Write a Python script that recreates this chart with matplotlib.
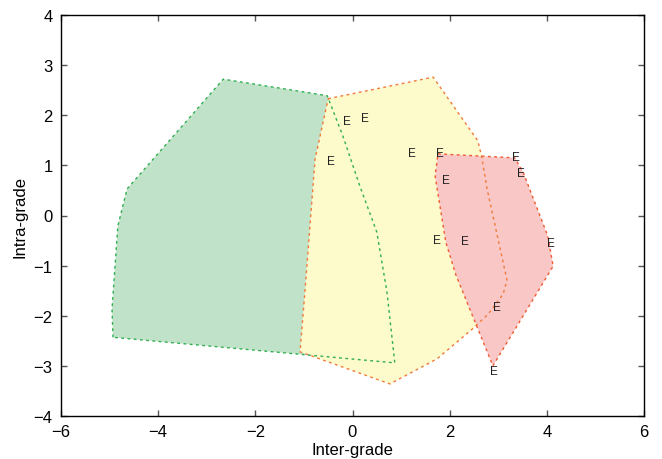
import matplotlib
matplotlib.use("Agg")
import matplotlib.pyplot as plt
from matplotlib.patches import Polygon

plt.rcParams['font.family'] = ['Liberation Sans', 'DejaVu Sans']

# Green region (convex hull)
green_x = [-4.93, -4.95, -4.83, -4.64, -2.66, -0.52, -0.20, 0.15, 0.50, 0.71, 0.87]
green_y = [-2.43, -1.87, -0.21, 0.53, 2.72, 2.39, 1.59, 0.59, -0.33, -1.53, -2.94]

# Yellow region
yellow_x = [-0.50, 1.66, 2.58, 2.66, 2.77, 3.18, 3.10, 2.79, 2.46, 1.74, 0.77, -1.08, -0.98, -0.77]
yellow_y = [2.33, 2.76, 1.49, 1.17, 0.53, -1.29, -1.57, -1.97, -2.27, -2.86, -3.36, -2.72, -1.53, 1.13]

# Red region
red_x = [1.76, 3.34, 3.51, 4.02, 4.13, 2.89, 2.13, 1.92, 1.70]
red_y = [1.23, 1.15, 0.87, -0.41, -1.01, -3.00, -1.19, -0.53, 0.79]

# "E" labels
e_x = [-0.44, -0.11, 0.26, 1.22, 1.80, 1.92, 3.36, 3.47, 1.74, 2.31, 4.08, 2.97, 2.91]
e_y = [1.09, 1.89, 1.95, 1.25, 1.25, 0.71, 1.17, 0.85, -0.49, -0.51, -0.55, -1.83, -3.10]

xticks = [-6, -4, -2, 0, 2, 4, 6]
yticks = [-4, -3, -2, -1, 0, 1, 2, 3, 4]

fig = plt.figure(figsize=(6.62, 4.60), dpi=100)
ax = fig.add_axes([61 / 662, 1 - 417 / 460, 583 / 662, 401 / 460])

regions = [
    (green_x, green_y, '#c0e2c9', '#2fae50'),
    (yellow_x, yellow_y, '#fdfacb', '#f07a3a'),
    (red_x, red_y, '#f9c7c6', '#ef5a30'),
]

# fills first
for xs, ys, fc, ec in regions:
    ax.add_patch(Polygon(list(zip(xs, ys)), closed=True, facecolor=fc,
                         edgecolor='none', zorder=1))
# outlines on top
for xs, ys, fc, ec in regions:
    ax.plot(list(xs) + [xs[0]], list(ys) + [ys[0]], color=ec, lw=1.0,
            dashes=(2, 2.5), zorder=2)

for x, y in zip(e_x, e_y):
    ax.text(x, y, 'E', fontsize=8.5, color='#222222', ha='center',
            va='center', zorder=3)

ax.set_xlim(-6, 6)
ax.set_ylim(-4, 4)
ax.set_xticks(xticks)
ax.set_yticks(yticks)
ax.tick_params(direction='in', length=4, width=1, color='#555555',
               top=True, right=True, labelsize=12, pad=6)
for s in ax.spines.values():
    s.set_linewidth(1.0)
    s.set_color('black')
ax.set_xlabel('Inter-grade', fontsize=12, labelpad=2)
ax.set_ylabel('Intra-grade', fontsize=12, labelpad=4)

fig.savefig('out.png', dpi=100)
